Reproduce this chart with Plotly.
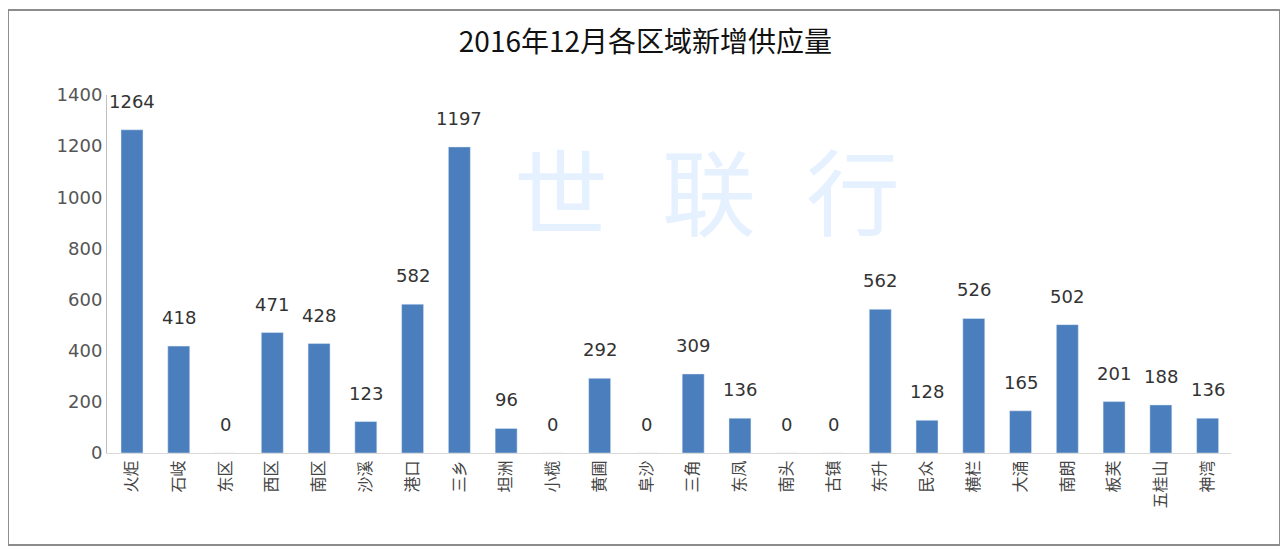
import plotly.graph_objects as go

districts = ["火炬", "石岐", "东区", "西区", "南区", "沙溪", "港口", "三乡", "坦洲", "小榄",
             "黄圃", "阜沙", "三角", "东凤", "南头", "古镇", "东升", "民众", "横栏", "大涌",
             "南朗", "板芙", "五桂山", "神湾"]
supply = [1264, 418, 0, 471, 428, 123, 582, 1197, 96, 0,
          292, 0, 309, 136, 0, 0, 562, 128, 526, 165,
          502, 201, 188, 136]

fig = go.Figure(
    go.Bar(
        x=districts,
        y=supply,
        marker=dict(color="#4A7EBD"),
        cliponaxis=False,
    )
)

# value labels sit a little higher above the bars than plotly's "outside" text
for name, val in zip(districts, supply):
    fig.add_annotation(
        x=name,
        y=val,
        text=str(val),
        showarrow=False,
        yanchor="bottom",
        yshift=16,
        font=dict(size=18, color="#333333", family="DejaVu Sans"),
    )

# page body has an 8px margin, so the figure is 8px smaller than the window
fig.update_layout(
    width=1280,
    height=543,
    margin=dict(l=99, r=57, t=87, b=98, autoexpand=False),
    paper_bgcolor="white",
    plot_bgcolor="white",
    bargap=0.53,
    showlegend=False,
    title=dict(
        text="2016年12月各区域新增供应量",
        x=0.498,
        xanchor="center",
        xref="container",
        y=1 - 34 / 543,
        yref="container",
        yanchor="middle",
        font=dict(size=28, color="#111111", family="Noto Sans CJK SC"),
    ),
    font=dict(family="Noto Sans CJK SC"),
)

fig.update_xaxes(
    tickangle=-90,
    tickfont=dict(size=16, color="#444444"),
    showline=True,
    linecolor="#d9d9d9",
    ticks="",
    showgrid=False,
    automargin=False,
)
fig.update_yaxes(
    range=[0, 1400],
    dtick=200,
    tickfont=dict(size=18, color="#555555", family="DejaVu Sans"),
    showline=True,
    linecolor="#bfbfbf",
    showgrid=False,
    zeroline=False,
    ticks="",
    automargin=False,
)

# watermark
for ch, xpos in zip(["世", "联", "行"], [0.404, 0.536, 0.664]):
    fig.add_annotation(
        text=ch,
        xref="paper",
        yref="paper",
        x=xpos,
        y=0.935,
        showarrow=False,
        font=dict(size=94, color="rgba(180,215,255,0.35)", family="Noto Sans CJK SC"),
    )

# outer frame
fig.add_shape(
    type="rect",
    xref="paper",
    yref="paper",
    x0=-0.0881,
    x1=1.0436,
    y0=-0.257,
    y1=1.2374,
    line=dict(color="#8c8c8c", width=2),
)

fig.write_html("out.html")
